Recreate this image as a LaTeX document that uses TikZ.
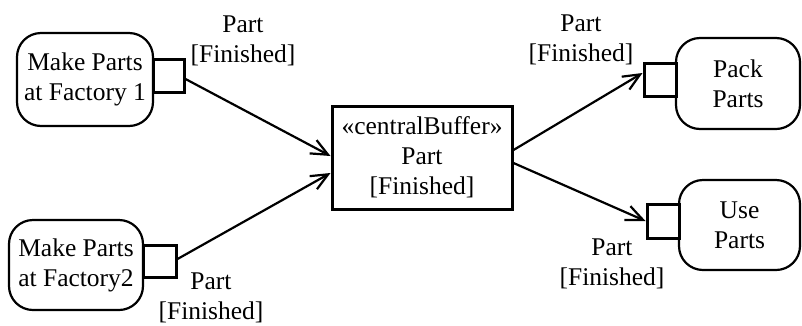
\documentclass[tikz,border=0pt]{standalone}
\usepackage{fontspec}
\setmainfont{Liberation Serif}
\newfontfamily\timesfont{Liberation Serif}
\usetikzlibrary{arrows.meta}
\begin{document}
\begin{tikzpicture}[x=1pt,y=-1pt,
  every node/.style={font=\timesfont\fontsize{25.5}{30}\selectfont, align=center, inner sep=0pt},
  action/.style={draw, line width=2.2pt, rounded corners=24pt},
  pin/.style={draw, line width=3pt, fill=white},
  buffer/.style={draw, line width=3pt},
  lbl/.style={},
  flow/.style={line width=2.2pt, -{Straight Barb[length=17pt,width=15pt,line width=2.2pt]}}
]
\useasboundingbox (0,0) rectangle (802,325);
% actions
\node[action, minimum width=136pt, minimum height=93pt] (a1) at (85,79.5) {Make Parts\\at Factory 1};
\node[action, minimum width=134pt, minimum height=90pt] (a2) at (76,265) {Make Parts\\at Factory2};
\node[action, minimum width=124pt, minimum height=91pt] (a3) at (738,83.5) {Pack\\Parts};
\node[action, minimum width=121pt, minimum height=90pt] (a4) at (739.5,225) {Use\\Parts};
% pins
\node[pin, minimum width=31pt, minimum height=33pt] (p1) at (168.5,75.5) {};
\node[pin, minimum width=33pt, minimum height=32pt] (p2) at (159.5,261) {};
\node[pin, minimum width=32pt, minimum height=33pt] (p3) at (660,79.5) {};
\node[pin, minimum width=32pt, minimum height=34pt] (p4) at (663,221) {};
% central buffer
\node[buffer, minimum width=180pt, minimum height=103pt] (buf) at (422,157.5) {};
\node (buftext) at (422,157) {«centralBuffer»\\Part\\{}[Finished]};
% labels
\node[lbl] (l1) at (243,41) {Part\\{}[Finished]};
\node[lbl] (l2) at (211,298) {Part\\{}[Finished]};
\node[lbl] (l3) at (581,40) {Part\\{}[Finished]};
\node[lbl] (l4) at (612,264) {Part\\{}[Finished]};
% flows
\draw[flow] ([yshift=-3.5pt]p1.east) -- ([yshift=1.5pt]buf.west);
\draw[flow] ([yshift=2pt]p2.east) -- ([yshift=-15.5pt]buf.west);
\draw[flow] ([yshift=7.5pt]buf.east) -- ([yshift=6.5pt]p3.west);
\draw[flow] ([yshift=-5.5pt]buf.east) -- (p4.west);
\end{tikzpicture}
\end{document}
